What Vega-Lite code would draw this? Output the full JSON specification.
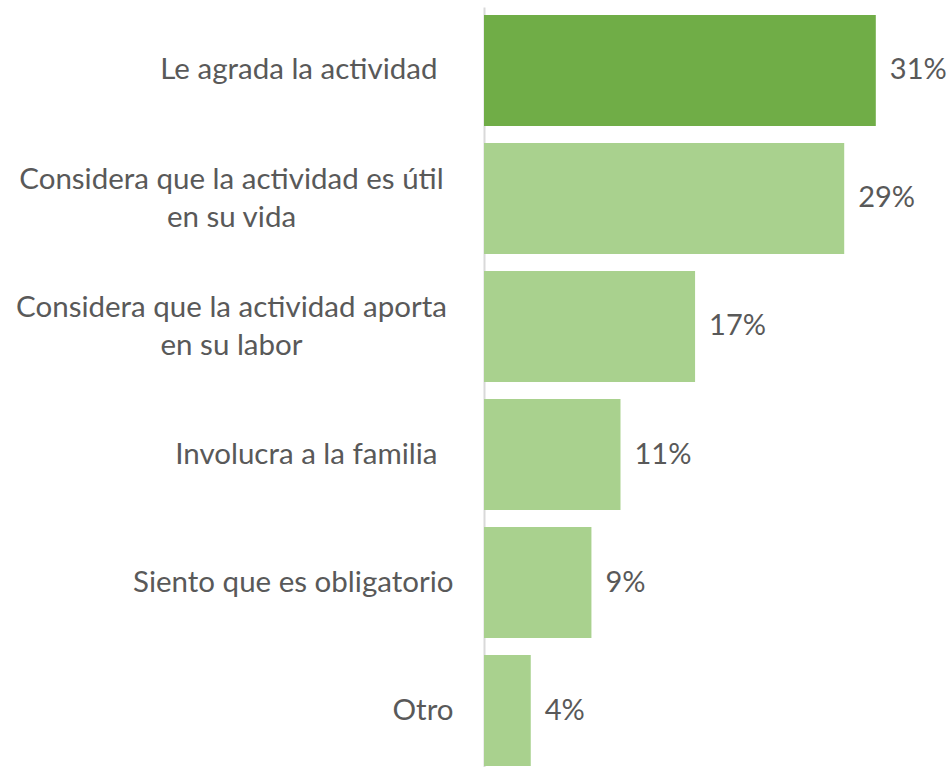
{
  "$schema": "https://vega.github.io/schema/vega-lite/v6.json",
  "autosize": {"type": "none"},
  "padding": {"left": 484, "top": 7, "right": 10, "bottom": 0},
  "width": 455,
  "height": 760,
  "background": "white",
  "config": {"view": {"stroke": null}},
  "data": {
    "values": [
      {"categoria": "Le agrada la actividad ", "valor": 31.0, "etiqueta": "31%", "grupo": "principal"},
      {"categoria": "Considera que la actividad es útil en su vida", "valor": 28.5, "etiqueta": "29%", "grupo": "resto"},
      {"categoria": "Considera que la actividad aporta en su labor", "valor": 16.7, "etiqueta": "17%", "grupo": "resto"},
      {"categoria": "Involucra a la familia ", "valor": 10.8, "etiqueta": "11%", "grupo": "resto"},
      {"categoria": "Siento que es obligatorio", "valor": 8.5, "etiqueta": "9%", "grupo": "resto"},
      {"categoria": "Otro", "valor": 3.7, "etiqueta": "4%", "grupo": "resto"}
    ]
  },
  "encoding": {
    "y": {
      "field": "categoria",
      "type": "nominal",
      "sort": null,
      "scale": {"range": [0, 767], "paddingInner": 0.133, "paddingOuter": 0.0625},
      "axis": {
        "title": null,
        "ticks": false,
        "grid": false,
        "domain": true,
        "domainColor": "#D9D9D9",
        "domainWidth": 2,
        "zindex": 0,
        "labelFont": "Lato",
        "labelFontSize": 29.5,
        "labelColor": "#595959",
        "labelLimit": 0,
        "labelLineHeight": 38,
        "labelBaseline": "middle",
        "labelAlign": {"condition": {"test": "indexof(datum.value, ' en su ') > 0", "value": "center"}, "value": "right"},
        "labelPadding": {"condition": [{"test": "indexof(datum.value, ' en su ') > 0", "value": 253}, {"test": "slice(datum.value, -1) == ' '", "value": 47}], "value": 31},
        "labelOffset": {"condition": {"test": "indexof(datum.value, ' en su ') > 0", "value": -18}, "value": 0},
        "labelExpr": "indexof(datum.label, ' en su ') > 0 ? split(replace(datum.label, ' en su ', '|en su '), '|') : datum.label"
      }
    },
    "x": {
      "field": "valor",
      "type": "quantitative",
      "scale": {"domain": [0, 36], "nice": false},
      "axis": null
    }
  },
  "layer": [
    {
      "mark": {"type": "bar"},
      "encoding": {
        "color": {
          "field": "grupo",
          "type": "nominal",
          "scale": {"domain": ["principal", "resto"], "range": ["#70AD47", "#A9D18E"]},
          "legend": null
        }
      }
    },
    {
      "mark": {"type": "text", "align": "left", "baseline": "middle", "dx": 14, "font": "Lato", "fontSize": 29, "color": "#595959"},
      "encoding": {
        "text": {"field": "etiqueta"}
      }
    }
  ]
}
